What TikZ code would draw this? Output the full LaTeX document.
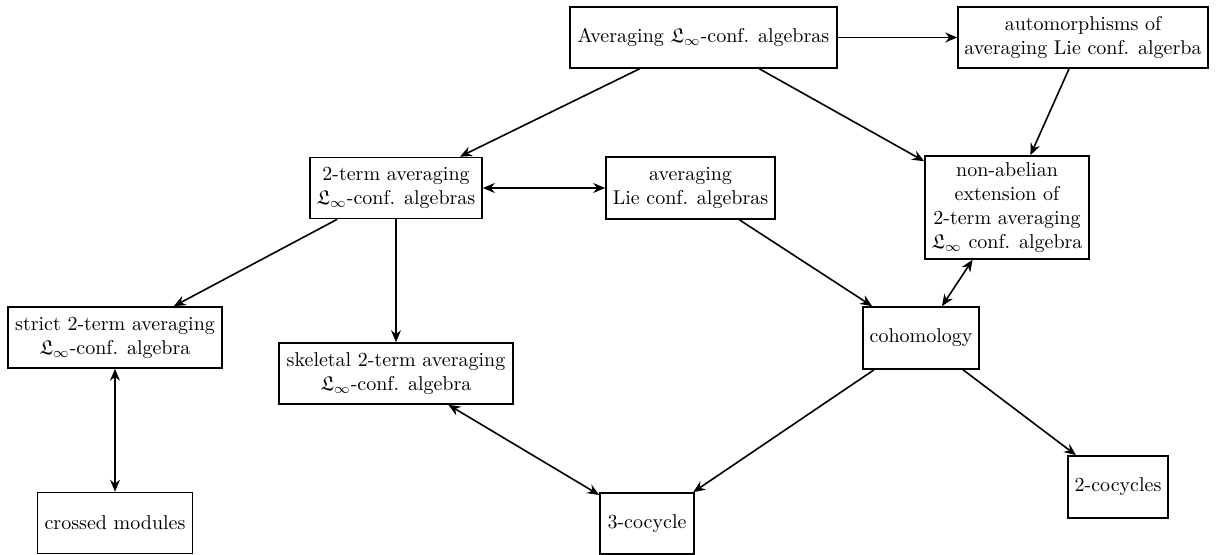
\documentclass[tikz,border=0pt]{standalone}
\usepackage{amssymb}
\usetikzlibrary{arrows.meta}
\begin{document}
\begin{tikzpicture}[x=0.5pt,y=-0.5pt,
  box/.style={draw,thick,align=center,inner sep=2pt},
  arr/.style={thick,-{Stealth[length=6pt,width=5pt,inset=2pt]}},
  darr/.style={thick,{Stealth[length=6pt,width=5pt,inset=2pt]}-{Stealth[length=6pt,width=5pt,inset=2pt]}}]
\useasboundingbox (0,0) rectangle (1218,555);
\node[box,minimum width=133.5pt,minimum height=30.5pt] (A) at (703.5,37.5) {Averaging $\mathfrak{L}_\infty$-conf. algebras};
\node[box,minimum width=125pt,minimum height=30.5pt] (B) at (1083,37.5) {automorphisms of\\averaging Lie conf. algerba};
\node[box,minimum width=86pt,minimum height=30.5pt] (C) at (396,188) {2-term averaging\\$\mathfrak{L}_\infty$-conf. algebras};
\node[box,minimum width=84.5pt,minimum height=31pt] (D) at (690.5,188) {averaging\\Lie conf. algebras};
\node[box,minimum width=82pt,minimum height=51.5pt] (E) at (1007,207.5) {non-abelian\\extension of\\2-term averaging\\$\mathfrak{L}_\infty$ conf. algebra};
\node[box,minimum width=107pt,minimum height=30.5pt] (F) at (115,337.5) {strict 2-term averaging\\$\mathfrak{L}_\infty$-conf. algebra};
\node[box,minimum width=117pt,minimum height=30.5pt] (G) at (396,373.5) {skeletal 2-term averaging\\$\mathfrak{L}_\infty$-conf. algebra};
\node[box,minimum width=58pt,minimum height=31pt] (H) at (921,338) {cohomology};
\node[box,minimum width=77.5pt,minimum height=30.5pt] (I) at (115,523) {crossed modules};
\node[box,minimum width=47pt,minimum height=30.5pt] (J) at (647,523.5) {3-cocycle};
\node[box,minimum width=50pt,minimum height=31pt] (K) at (1118,487) {2-cocycles};
\draw[arr] (A) -- (B);
\draw[arr] (A) -- (C);
\draw[arr] (A) -- (E);
\draw[arr] (B) -- (E);
\draw[darr] (C) -- (D);
\draw[arr] (C) -- (F);
\draw[arr] (C.south) -- (G.north);
\draw[arr] (D) -- (H);
\draw[darr] (E) -- (H);
\draw[darr] (F) -- (I);
\draw[darr] (G) -- (J);
\draw[arr] (H) -- (J);
\draw[arr] (H) -- (K);
\end{tikzpicture}
\end{document}
